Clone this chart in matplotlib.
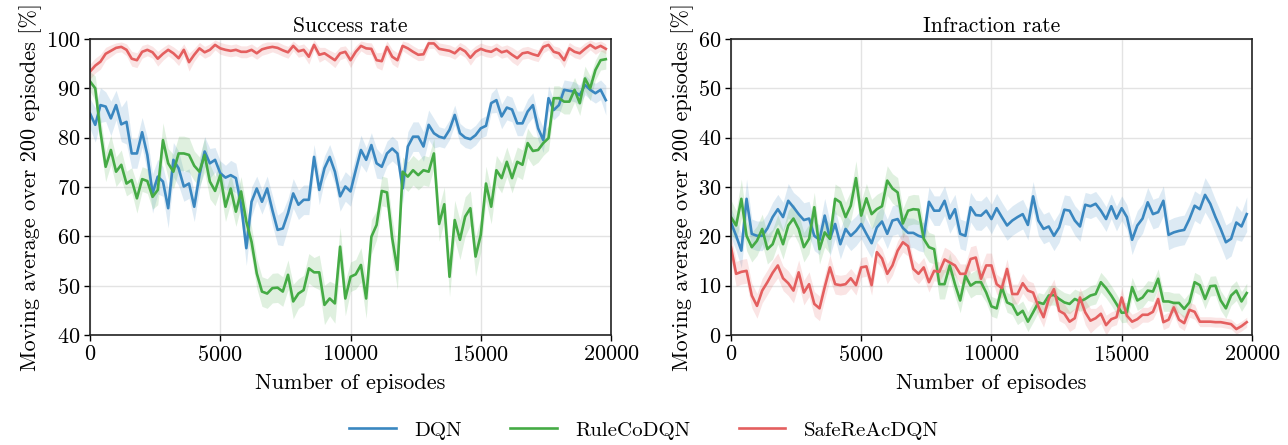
import numpy as np
import matplotlib
matplotlib.use('Agg')
import matplotlib.pyplot as plt

plt.rcParams['font.family'] = 'serif'
plt.rcParams['font.serif'] = ['cmr10']
plt.rcParams['axes.formatter.use_mathtext'] = True
plt.rcParams['mathtext.fontset'] = 'cm'

# episodes at which the moving average is reported
episodes = np.arange(0, 20000, 200)

# ---- success rate [%] ----
success_dqn = [84.9, 82.6, 86.6, 86.3, 83.9, 86.6, 82.7, 83.2, 76.8, 76.8,
               81.1, 76.5, 68.7, 72.1, 71.1, 65.7, 75.5, 73.8, 70.1, 70.7,
               66.0, 72.4, 77.2, 74.8, 75.5, 72.8, 71.9, 72.4, 71.8, 66.4,
               57.6, 67.0, 69.7, 67.0, 69.7, 65.3, 61.3, 61.6, 64.7, 68.7,
               66.4, 67.4, 67.4, 76.1, 69.4, 73.8, 76.1, 73.1, 68.1, 70.1,
               69.1, 73.4, 77.5, 75.5, 78.5, 74.8, 74.1, 76.8, 77.8, 76.8,
               69.7, 78.2, 80.2, 80.2, 78.2, 82.6, 80.9, 80.2, 79.9, 81.6,
               84.6, 80.9, 80.0, 79.7, 80.5, 81.9, 82.4, 87.0, 87.6, 84.3,
               86.1, 85.7, 82.9, 82.9, 85.3, 86.6, 81.9, 79.5, 88.0, 85.6,
               86.6, 89.7, 89.5, 89.3, 88.6, 90.7, 89.7, 89.0, 89.7, 87.6]
success_ruleco = [91.4, 90.0, 81.2, 74.1, 77.5, 73.1, 74.5, 70.7, 71.4, 67.7,
                  71.6, 71.2, 68.0, 69.4, 79.5, 74.8, 73.1, 76.8, 76.8, 76.5,
                  74.3, 73.1, 76.5, 71.1, 69.2, 72.4, 66.0, 69.7, 65.0, 69.1,
                  63.0, 58.9, 52.5, 48.8, 48.4, 49.5, 49.6, 48.8, 52.2, 46.8,
                  48.4, 49.1, 53.5, 52.7, 52.7, 46.1, 47.4, 46.4, 57.9, 47.4,
                  51.8, 52.3, 54.2, 47.4, 59.9, 62.3, 69.2, 68.9, 59.6, 53.2,
                  73.1, 72.1, 73.4, 72.4, 73.4, 73.1, 76.8, 62.5, 66.5, 51.8,
                  63.3, 59.3, 64.0, 65.7, 55.9, 60.3, 70.7, 66.0, 73.4, 71.8,
                  75.1, 71.8, 75.1, 74.5, 78.9, 77.3, 77.5, 78.9, 79.9, 88.0,
                  88.0, 87.3, 87.3, 89.7, 87.0, 92.0, 90.0, 93.7, 95.7, 95.9]
success_safereac = [93.4, 94.6, 95.4, 97.0, 97.6, 98.2, 98.4, 97.8, 96.0, 95.7,
                    97.4, 97.8, 97.3, 96.0, 97.0, 97.8, 97.1, 96.1, 97.8, 95.3,
                    96.8, 98.1, 97.3, 97.8, 98.8, 98.1, 97.8, 97.6, 97.8, 97.4,
                    97.4, 97.8, 97.1, 97.9, 98.2, 98.4, 98.2, 97.7, 97.3, 98.6,
                    97.5, 97.8, 96.4, 98.8, 96.8, 97.1, 96.4, 95.7, 97.1, 97.4,
                    95.7, 97.4, 98.6, 98.1, 98.0, 95.7, 95.5, 98.4, 96.4, 95.7,
                    98.6, 98.1, 97.4, 96.8, 96.9, 99.1, 99.1, 98.0, 97.8, 97.6,
                    97.1, 98.1, 97.5, 96.2, 97.4, 98.0, 97.6, 97.4, 98.0, 97.3,
                    97.6, 96.8, 96.1, 97.1, 97.3, 96.9, 96.6, 98.4, 98.8, 97.4,
                    97.1, 95.7, 98.1, 97.4, 97.1, 98.0, 98.8, 98.1, 98.6, 98.0]

success_dqn_std = [3, 3.5, 3.5, 3, 3.5, 3, 3.5, 4.5, 3, 3,
                   3, 3.5, 4, 3.5, 3, 4, 3.5, 3.5, 3, 3,
                   3, 3, 3, 3, 2.5, 2.5, 2.5, 3, 3, 3,
                   3.5, 3, 2.5, 2.5, 2.5, 3, 3, 3.5, 3, 3,
                   3, 3, 3, 2.5, 3, 2.5, 2.5, 2.5, 3, 3,
                   3, 3, 3, 2.5, 2.5, 3, 2.5, 2.5, 2.5, 2.5,
                   3, 3, 3, 3, 3, 3, 3, 2, 2, 2,
                   2, 2, 2, 2, 2, 2, 2, 2, 2.5, 2.5,
                   2.5, 2.5, 2.5, 2.5, 2.5, 2.5, 2.5, 2.5, 2.5, 2,
                   2, 2, 2, 2, 2, 2, 2, 2, 2, 3]
success_ruleco_std = [2, 2.5, 3, 3, 3, 3, 3, 2.5, 2.5, 3,
                      2.5, 2.5, 2.5, 3, 3.5, 3, 3.5, 3.5, 3.5, 3.5,
                      3, 3, 3.5, 3.5, 3, 3, 3, 3, 3, 3,
                      3, 3, 3, 3, 3, 3, 3, 3, 3, 3.5,
                      3, 3, 3, 3, 3.5, 4, 3.5, 4, 4, 3.5,
                      3, 3, 3.5, 4, 3.5, 3, 3, 3, 4, 4,
                      3, 3, 3, 3, 3, 3, 3, 3.5, 3.5, 4,
                      4, 4, 4, 3.5, 4, 3.5, 3.5, 3.5, 3, 3,
                      3, 3, 3, 3, 3, 3, 2.5, 2.5, 2.5, 2.5,
                      2.5, 2.5, 2.5, 2.5, 2.5, 2.5, 2.5, 2, 2, 2]
success_safereac_std = [1.5, 1.5, 1.5, 1.3, 1.2, 1.0, 1.0, 1.2, 1.5, 1.5,
                        1.3, 1.2, 1.2, 1.5, 1.3, 1.2, 1.3, 1.5, 1.2, 1.8,
                        1.3, 1.2, 1.2, 1.2, 1.0, 1.2, 1.2, 1.2, 1.2, 1.2,
                        1.2, 1.2, 1.2, 1.2, 1.2, 1.0, 1.2, 1.2, 1.2, 1.0,
                        1.2, 1.2, 1.5, 1.0, 1.5, 1.2, 1.3, 1.5, 1.3, 1.2,
                        1.5, 1.2, 1.0, 1.2, 1.2, 1.5, 1.8, 1.2, 1.5, 1.5,
                        1.0, 1.2, 1.2, 1.2, 1.2, 1.0, 1.0, 1.2, 1.2, 1.2,
                        1.2, 1.2, 1.2, 1.5, 1.2, 1.2, 1.2, 1.2, 1.2, 1.2,
                        1.2, 1.5, 1.5, 1.2, 1.2, 1.2, 1.2, 1.2, 1.0, 1.2,
                        1.2, 1.5, 1.2, 1.2, 1.2, 1.2, 1.0, 1.2, 1.0, 1.0]

# ---- infraction rate [%] ----
infraction_dqn = [22.8, 20.1, 17.1, 27.6, 20.5, 20.1, 20.1, 21.6, 23.9, 25.5,
                  23.9, 27.2, 25.9, 24.5, 23.3, 23.6, 20.1, 19.3, 24.2, 19.5,
                  22.5, 18.4, 21.5, 20.1, 21.1, 22.5, 20.5, 18.6, 21.8, 23.0,
                  20.5, 23.2, 23.5, 21.7, 20.7, 20.7, 20.1, 19.8, 27.0, 25.2,
                  25.2, 27.2, 23.6, 25.5, 20.5, 20.1, 25.9, 24.3, 24.2, 25.2,
                  23.5, 25.7, 23.9, 22.2, 23.2, 23.9, 24.5, 22.3, 28.1, 23.2,
                  21.5, 22.0, 20.1, 21.8, 25.4, 25.2, 23.2, 22.0, 26.4, 26.1,
                  26.6, 25.2, 23.5, 26.1, 23.6, 25.7, 23.9, 19.3, 22.2, 23.6,
                  26.9, 24.5, 24.9, 27.2, 20.3, 20.8, 21.1, 21.3, 23.5, 26.2,
                  25.5, 28.4, 26.6, 23.9, 21.5, 18.8, 19.5, 22.8, 22.0, 24.5]
infraction_ruleco = [23.9, 22.2, 27.6, 20.1, 17.8, 19.1, 21.5, 17.4, 18.4, 21.4,
                     18.4, 22.2, 23.6, 21.5, 17.8, 19.5, 25.9, 17.4, 20.8, 19.5,
                     27.6, 26.9, 23.9, 26.2, 31.8, 24.2, 27.7, 24.5, 25.5, 26.1,
                     31.3, 29.7, 28.9, 22.6, 25.2, 25.5, 25.4, 19.5, 17.8, 17.4,
                     10.3, 10.3, 14.1, 10.3, 7.0, 12.0, 10.0, 10.7, 10.7, 8.6,
                     5.8, 5.4, 9.7, 6.6, 6.1, 4.1, 4.9, 2.7, 4.6, 6.6,
                     6.3, 8.0, 8.1, 7.3, 6.6, 6.3, 7.3, 6.8, 7.3, 8.0,
                     8.3, 10.7, 9.5, 8.0, 6.3, 4.5, 4.6, 9.7, 7.0, 7.6,
                     9.0, 8.8, 11.4, 6.8, 6.8, 6.5, 6.5, 5.3, 6.6, 10.7,
                     10.1, 7.3, 9.9, 10.0, 7.0, 5.4, 8.0, 9.0, 6.8, 8.5]
infraction_safereac = [17.8, 12.4, 12.8, 13.0, 8.0, 5.9, 9.0, 10.7, 12.6, 14.1,
                       11.5, 10.5, 9.0, 12.7, 8.6, 10.3, 6.3, 5.4, 9.7, 13.7,
                       10.3, 10.1, 10.3, 11.5, 10.1, 13.7, 13.9, 10.1, 16.8, 15.5,
                       12.4, 14.1, 17.1, 18.8, 18.0, 13.4, 12.4, 13.7, 10.7, 13.0,
                       12.8, 15.3, 14.7, 14.1, 12.4, 12.4, 15.4, 15.7, 11.4, 14.1,
                       14.1, 10.3, 9.5, 13.4, 8.3, 8.3, 10.5, 9.0, 8.6, 5.8,
                       3.6, 7.3, 9.3, 4.9, 4.3, 2.7, 3.4, 7.6, 4.6, 2.9,
                       3.4, 4.3, 2.0, 3.2, 3.6, 7.6, 3.9, 2.7, 3.2, 4.1,
                       4.1, 4.7, 7.3, 2.6, 3.1, 5.6, 3.1, 2.4, 5.1, 4.7,
                       2.7, 2.7, 2.7, 2.6, 2.6, 2.4, 2.2, 1.2, 1.8, 2.6]

infraction_dqn_std = [3, 3, 3.5, 4, 3, 3, 3, 3, 3, 3,
                      3, 3.5, 3, 3.5, 3.5, 3.5, 3, 3, 3.5, 3.5,
                      3, 3, 3, 3, 3, 3, 3, 3, 3, 3,
                      3, 3, 3, 3, 3, 3, 3, 3, 3, 3,
                      3, 3, 3, 3, 3, 3, 3, 3, 3, 3,
                      3, 3, 3, 3, 3, 3, 3, 3, 3, 3,
                      3, 3, 3, 3, 3, 3, 3, 3, 2.5, 2.5,
                      2.5, 2.5, 2.5, 2.5, 2.5, 2.5, 2.5, 3, 3, 3,
                      3, 3, 3, 3, 3, 3, 3, 3, 3, 3,
                      3, 3.5, 3.5, 3.5, 3.5, 3.5, 3.5, 3.5, 3, 3.5]
infraction_ruleco_std = [3.5, 3, 4, 3, 3, 3, 3, 3, 3, 3,
                         3, 3, 3, 3, 3, 3, 3, 3, 3, 3,
                         3, 3, 3, 3, 3.5, 3, 3, 3, 3, 3,
                         3, 3, 3, 3, 3, 3, 3, 3, 3, 3,
                         3, 3, 2.5, 2.5, 2.5, 2.5, 2.5, 2.5, 2.5, 2,
                         2, 2, 2, 2, 2, 2, 2, 2, 2, 2,
                         2, 2, 2, 2, 2, 2, 2, 2, 2, 2,
                         2, 2, 2, 2, 2, 2, 2, 2, 2, 2,
                         2, 2, 2, 2, 2, 2, 2, 2, 2, 2,
                         2, 2, 2, 2, 2, 2, 2, 2, 2, 2]
infraction_safereac_std = [2.5, 2.5, 2.5, 2.5, 2.5, 2.5, 2.5, 2.5, 2.5, 2.5,
                           2.5, 2.5, 2.5, 2.5, 2.5, 2.5, 2.5, 2.5, 2.5, 2.5,
                           2, 2, 2, 2, 2, 2, 2, 2, 2, 2,
                           2, 2, 2, 2, 2, 2, 2, 2, 2, 2,
                           2, 2.5, 2.5, 2, 2, 2, 2.5, 2.5, 2.5, 2.5,
                           2.5, 2, 2, 2, 2, 2, 2, 2, 2, 2,
                           2, 2, 2, 2, 2, 2, 2, 2, 2.5, 2.5,
                           2, 2, 2, 1.5, 1.5, 2, 1.5, 1.5, 1.5, 1.5,
                           1.5, 1.5, 2, 1.5, 1.5, 1.5, 1.5, 1.5, 1.5, 1.5,
                           1.0, 1.0, 1.0, 1.0, 1.0, 1.0, 1.0, 1.0, 1.0, 1.0]

labels = ['DQN', 'RuleCoDQN', 'SafeReAcDQN']
colors = ['#3a87c0', '#45ab45', '#e45f5f']
titles = ['Success rate', 'Infraction rate']
ylims = [(40, 100), (0, 60)]

panels = [
    ([success_dqn, success_ruleco, success_safereac],
     [success_dqn_std, success_ruleco_std, success_safereac_std]),
    ([infraction_dqn, infraction_ruleco, infraction_safereac],
     [infraction_dqn_std, infraction_ruleco_std, infraction_safereac_std]),
]

fig = plt.figure(figsize=(12.88, 4.45), dpi=100)
ax_left = fig.add_axes([0.0699, 0.2472, 0.4045, 0.6652])
ax_right = fig.add_axes([0.5675, 0.2472, 0.4045, 0.6652])

for ax, (means, stds), title, ylim in zip([ax_left, ax_right], panels, titles, ylims):
    for m, s, c, lab in zip(means, stds, colors, labels):
        m = np.array(m)
        s = np.array(s)
        ax.fill_between(episodes, m - s, m + s, color=c, alpha=0.17, lw=0)
        ax.plot(episodes, m, color=c, lw=1.9, label=lab)
    ax.set_xlim(0, 20000)
    ax.set_ylim(*ylim)
    ax.set_xticks([0, 5000, 10000, 15000, 20000])
    ax.grid(True, color='#e3e3e3', lw=1.0)
    ax.set_axisbelow(True)
    ax.set_title(title, fontsize=15.5, pad=5)
    ax.set_xlabel('Number of episodes', fontsize=16, labelpad=6)
    ax.set_ylabel('Moving average over 200 episodes [%]', fontsize=16, labelpad=3)
    ax.tick_params(labelsize=16, direction='out', length=4, width=1, colors='black', pad=3)
    for sp in ax.spines.values():
        sp.set_color('#222222')
        sp.set_linewidth(1.2)

handles, labs = ax_left.get_legend_handles_labels()
leg = fig.legend(handles, labs, loc='center', bbox_to_anchor=(0.5, 0.033), ncol=3,
                 fontsize=15, frameon=False, handlelength=2.25, handletextpad=0.9,
                 columnspacing=2.3)

plt.savefig('out.png', dpi=100)
